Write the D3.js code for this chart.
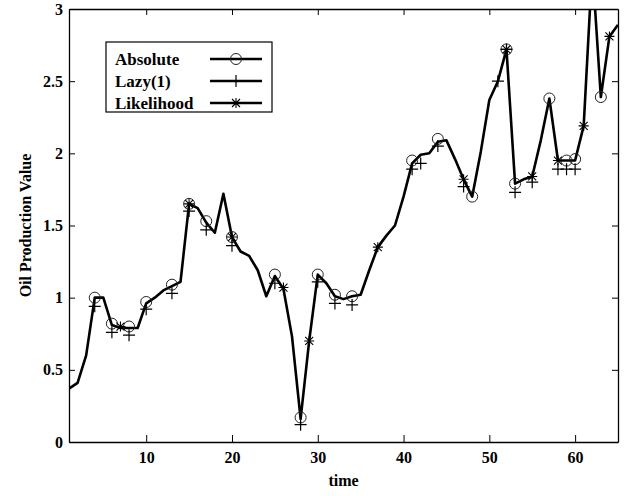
<!DOCTYPE html>
<html lang="en">
  <head>
    <script src="https://d3js.org/d3.v7.min.js"></script>
    <meta charset="utf-8"/>
    <title>Oil Production Value</title>
  </head>
  <body>
    <div id="chart"></div>
  </body>
</html>

<style>
  body { margin: 0; background: #fff; }
  svg { display: block; }
  text { font-family: "Liberation Serif", "Times New Roman", serif; font-weight: bold; }
</style>

<script>
  const width = 628;
  const height = 496;
  const margin = {top: 9, right: 10, bottom: 54, left: 69};

  // series: value per time step (1..65)
  const times = d3.range(1, 66);
  const values = [
    0.37, 0.41, 0.60, 1.00, 1.00, 0.81, 0.79, 0.79, 0.79, 0.96,
    1.00, 1.05, 1.08, 1.11, 1.65, 1.62, 1.52, 1.45, 1.72, 1.42,
    1.32, 1.29, 1.19, 1.01, 1.15, 1.06, 0.73, 0.16, 0.70, 1.16,
    1.10, 1.01, 0.99, 1.01, 1.02, 1.19, 1.35, 1.43, 1.50, 1.70,
    1.93, 1.99, 2.00, 2.08, 2.09, 1.96, 1.82, 1.70, 2.01, 2.37,
    2.50, 2.72, 1.79, 1.82, 1.84, 2.09, 2.38, 1.95, 1.95, 1.95,
    2.19, 3.30, 2.39, 2.81, 2.89
  ];

  // marker series
  const absTimes = [4, 6, 8, 10, 13, 15, 17, 20, 25, 28, 30, 32, 34, 41, 44, 48, 52, 53, 57, 59, 60, 63];
  const absValues = [1.00, 0.82, 0.80, 0.97, 1.09, 1.65, 1.53, 1.42, 1.16, 0.17, 1.16, 1.02, 1.01, 1.95, 2.10, 1.70, 2.72, 1.79, 2.38, 1.95, 1.96, 2.39];

  const lazyTimes = [4, 6, 8, 10, 13, 15, 17, 20, 25, 28, 30, 32, 34, 41, 42, 44, 47, 51, 52, 53, 55, 58, 59, 60];
  const lazyValues = [0.94, 0.76, 0.74, 0.92, 1.03, 1.60, 1.47, 1.36, 1.10, 0.12, 1.11, 0.96, 0.95, 1.89, 1.93, 2.05, 1.77, 2.50, 2.72, 1.73, 1.80, 1.89, 1.89, 1.89];

  const likeTimes = [7, 15, 20, 26, 29, 37, 47, 52, 55, 58, 61, 64];
  const likeValues = [0.80, 1.65, 1.42, 1.07, 0.70, 1.35, 1.82, 2.72, 1.84, 1.95, 2.19, 2.81];

  const xTicks = [10, 20, 30, 40, 50, 60];
  const yTicks = [0, 0.5, 1, 1.5, 2, 2.5, 3];
  const legendNames = ["Absolute", "Lazy(1)", "Likelihood"];

  const svg = d3.select("#chart")
    .append("svg")
    .attr("width", width)
    .attr("height", height);

  const xScale = d3.scaleLinear()
    .domain([1, 65])
    .range([margin.left, width - margin.right]);

  const yScale = d3.scaleLinear()
    .domain([0, 3])
    .range([height - margin.bottom, margin.top]);

  svg.append("clipPath")
    .attr("id", "plot-clip")
    .append("rect")
    .attr("x", margin.left)
    .attr("y", margin.top)
    .attr("width", width - margin.left - margin.right)
    .attr("height", height - margin.top - margin.bottom);

  // axes (ticks pointing inward on all four sides)
  const styleAxis = (g) => {
    g.select(".domain").attr("stroke", "#000").attr("stroke-width", 1.3);
    g.selectAll(".tick line").attr("stroke", "#000").attr("stroke-width", 1);
    g.selectAll(".tick text").attr("fill", "#000").style("font-size", "16px");
  };

  svg.append("g")
    .attr("transform", "translate(0," + (height - margin.bottom) + ")")
    .call(d3.axisBottom(xScale).tickValues(xTicks).tickSizeInner(-7).tickSizeOuter(0).tickPadding(10))
    .call(styleAxis);

  svg.append("g")
    .attr("transform", "translate(0," + margin.top + ")")
    .call(d3.axisTop(xScale).tickValues(xTicks).tickSizeInner(-6).tickSizeOuter(0).tickFormat(""))
    .call(styleAxis);

  svg.append("g")
    .attr("transform", "translate(" + margin.left + ",0)")
    .call(d3.axisLeft(yScale).tickValues(yTicks).tickSizeInner(-6).tickSizeOuter(0).tickPadding(6).tickFormat((d) => d))
    .call(styleAxis);

  svg.append("g")
    .attr("transform", "translate(" + (width - margin.right) + ",0)")
    .call(d3.axisRight(yScale).tickValues(yTicks).tickSizeInner(-6).tickSizeOuter(0).tickFormat(""))
    .call(styleAxis);

  // axis titles
  svg.append("text")
    .attr("x", (margin.left + width - margin.right) / 2)
    .attr("y", 486)
    .attr("text-anchor", "middle")
    .style("font-size", "16px")
    .text("time");

  svg.append("text")
    .attr("transform", "translate(31," + ((margin.top + height - margin.bottom) / 2) + ") rotate(-90)")
    .attr("text-anchor", "middle")
    .style("font-size", "16px")
    .text("Oil Production Value");

  // main line
  const line = d3.line()
    .x((d, i) => xScale(times[i]))
    .y((d) => yScale(d));

  svg.append("path")
    .datum(values)
    .attr("clip-path", "url(#plot-clip)")
    .attr("fill", "none")
    .attr("stroke", "#000")
    .attr("stroke-width", 2.6)
    .attr("stroke-linejoin", "round")
    .attr("d", line);

  // marker shapes
  const drawCircle = (g, x, y) => {
    g.append("circle")
      .attr("cx", x).attr("cy", y).attr("r", 5.5)
      .attr("fill", "none").attr("stroke", "#222").attr("stroke-width", 1);
  };
  const drawPlus = (g, x, y) => {
    g.append("path")
      .attr("d", "M" + (x - 6) + "," + y + "H" + (x + 6) + "M" + x + "," + (y - 6) + "V" + (y + 6))
      .attr("stroke", "#000").attr("stroke-width", 1.2);
  };
  const drawStar = (g, x, y) => {
    const s = 5;
    g.append("path")
      .attr("d", "M" + (x - s) + "," + y + "H" + (x + s) + "M" + x + "," + (y - s) + "V" + (y + s)
        + "M" + (x - s * 0.8) + "," + (y - s * 0.8) + "L" + (x + s * 0.8) + "," + (y + s * 0.8)
        + "M" + (x - s * 0.8) + "," + (y + s * 0.8) + "L" + (x + s * 0.8) + "," + (y - s * 0.8))
      .attr("stroke", "#000").attr("stroke-width", 1.1);
  };

  const markers = svg.append("g").attr("clip-path", "url(#plot-clip)");
  absTimes.forEach((t, i) => drawCircle(markers, xScale(t), yScale(absValues[i])));
  lazyTimes.forEach((t, i) => drawPlus(markers, xScale(t), yScale(lazyValues[i])));
  likeTimes.forEach((t, i) => drawStar(markers, xScale(t), yScale(likeValues[i])));

  // legend
  const legend = svg.append("g").attr("id", "legend");
  legend.append("rect")
    .attr("x", 106).attr("y", 42)
    .attr("width", 166).attr("height", 70)
    .attr("fill", "#fff").attr("stroke", "#000").attr("stroke-width", 1.2);

  const drawers = [drawCircle, drawPlus, drawStar];
  legendNames.forEach((name, i) => {
    const y = 59 + i * 22;
    legend.append("text")
      .attr("x", 115).attr("y", y)
      .attr("dy", "0.35em")
      .style("font-size", "17px")
      .text(name);
    legend.append("line")
      .attr("x1", 210).attr("x2", 262)
      .attr("y1", y).attr("y2", y)
      .attr("stroke", "#000").attr("stroke-width", 2.6);
    drawers[i](legend, 236, y);
  });
</script>
